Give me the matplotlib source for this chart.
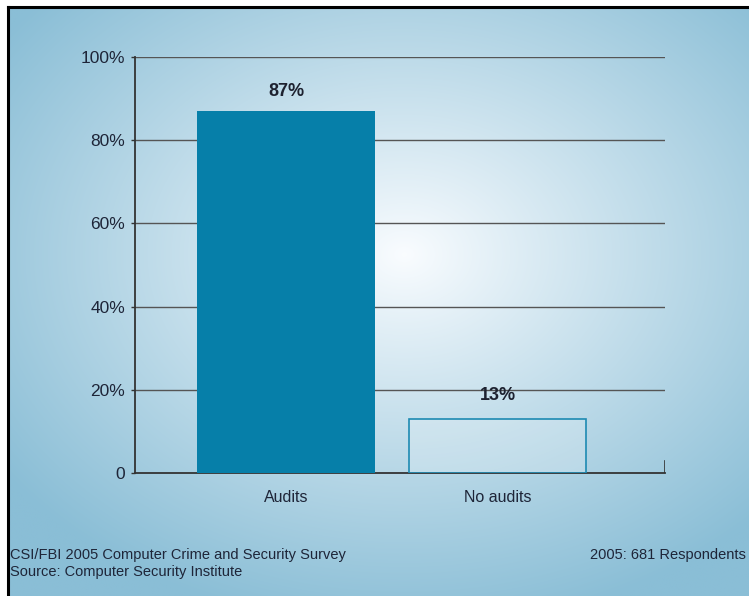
import numpy as np
import matplotlib.pyplot as plt

categories = ["Audits", "No audits"]
values = [87, 13]
value_labels = ["87%", "13%"]
yticks = [0, 20, 40, 60, 80, 100]
ytick_labels = ["0", "20%", "40%", "60%", "80%", "100%"]
footer_left = ["CSI/FBI 2005 Computer Crime and Security Survey",
               "Source: Computer Security Institute"]
footer_right = "2005: 681 Respondents"

plt.rcParams['font.family'] = ['Liberation Sans', 'DejaVu Sans']

W, H = 749, 596
fig = plt.figure(figsize=(W / 100, H / 100), dpi=100, facecolor="white")

# background panel with radial gradient and black left/top border
bg = fig.add_axes([8 / W, 0, 1 - 8 / W, 1 - 7 / H])
bg.set_xlim(0, 1)
bg.set_ylim(0, 1)
yy, xx = np.mgrid[0:H, 0:W]
d = np.sqrt(((xx - 400) / 500) ** 2 + ((yy - 250) / 380) ** 2)
t = np.clip(d, 0, 1) ** 0.95
edge = np.array([0x8a, 0xbe, 0xd6]) / 255
center = np.array([0.98, 0.99, 1.0])
img = center[None, None, :] * (1 - t[..., None]) + edge[None, None, :] * t[..., None]
bg.imshow(img, extent=[0, 1, 0, 1], aspect="auto", origin="upper")
bg.set_xticks([])
bg.set_yticks([])
for s in ["right", "bottom"]:
    bg.spines[s].set_visible(False)
for s in ["left", "top"]:
    bg.spines[s].set_linewidth(2.2)
    bg.spines[s].set_color("black")

ax = fig.add_axes([135 / W, 123 / H, 530 / W, 416 / H])
ax.patch.set_alpha(0)

x = np.arange(len(categories))
ax.bar(x[0], values[0], width=0.84, color="#067fa9", zorder=3)
ax.bar(x[1], values[1], width=0.84, facecolor=(1, 1, 1, 0.18),
       edgecolor="#1d8ab2", linewidth=1.2, zorder=3)

offsets = [14, 17]
for xi, v, lab, off in zip(x, values, value_labels, offsets):
    ax.annotate(lab, (xi, v), xytext=(0, off), textcoords="offset points",
                ha="center", va="center", fontsize=13, fontweight="bold",
                color="#1e2230")

ax.set_xlim(-0.714, 1.792)
ax.set_ylim(0, 100)
ax.set_yticks(yticks)
ax.set_yticklabels(ytick_labels)
ax.set_xticks(x)
ax.set_xticklabels(categories)
ax.tick_params(axis="y", length=3, width=1, color="#333333", labelsize=12.5,
               labelcolor="#1e2538", pad=4)
ax.tick_params(axis="x", length=0, labelsize=11.5, labelcolor="#1e2538", pad=12)

for yv in yticks[1:]:
    ax.axhline(yv, color="#555555", linewidth=1, zorder=1)
ax.axvline(ax.get_xlim()[1], ymin=0, ymax=0.03, color="#333333", linewidth=1.2)

for s in ["top", "right"]:
    ax.spines[s].set_visible(False)
for s in ["left", "bottom"]:
    ax.spines[s].set_color("#333333")
    ax.spines[s].set_linewidth(1.3)

fig.text(10 / W, 1 - 555 / H, footer_left[0], fontsize=10.5, color="#1e2538",
         va="center", ha="left")
fig.text(10 / W, 1 - 572 / H, footer_left[1], fontsize=10.5, color="#1e2538",
         va="center", ha="left")
fig.text(746 / W, 1 - 555 / H, footer_right, fontsize=10.5, color="#1e2538",
         va="center", ha="right")

fig.savefig("out.png", dpi=100)
